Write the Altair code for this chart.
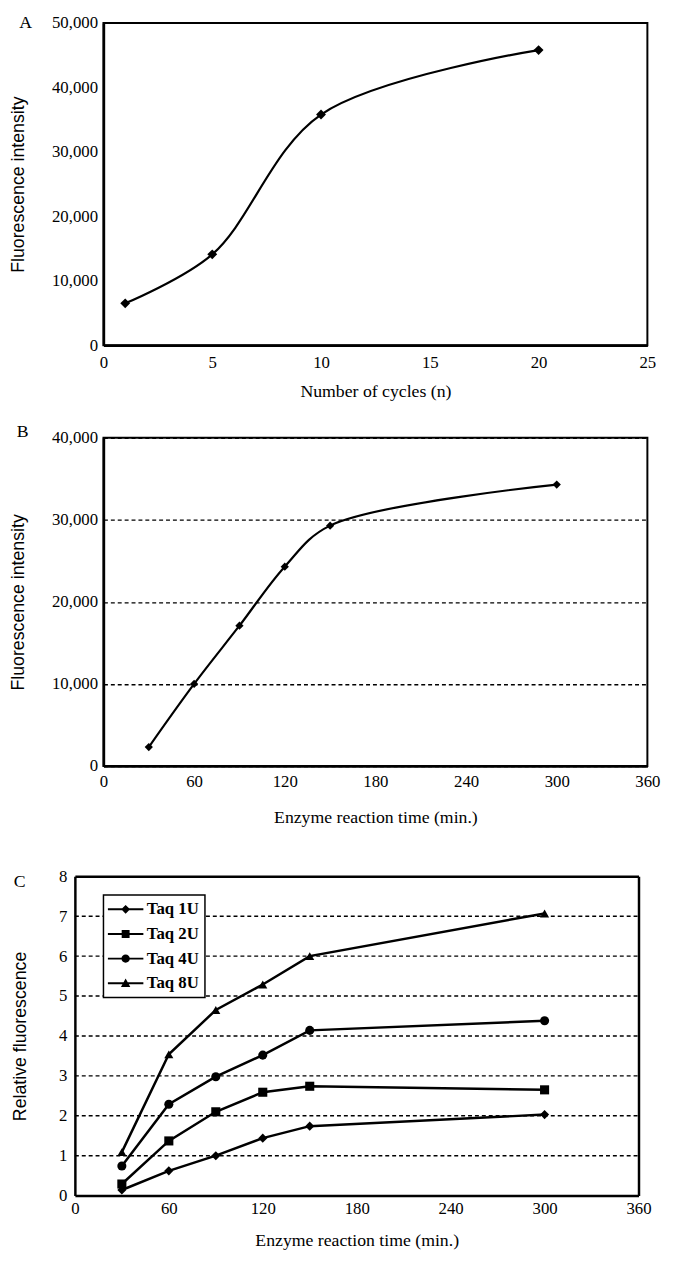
import altair as alt
import pandas as pd

# ---------------- data ----------------
A_cycles = [1, 5, 10, 20]
A_intensity = [6500, 14100, 35800, 45800]

B_time = [30, 60, 90, 120, 150, 300]
B_intensity = [2300, 10000, 17100, 24300, 29300, 34300]

C_time = [30, 60, 90, 120, 150, 300]
C_series = ["Taq 1U", "Taq 2U", "Taq 4U", "Taq 8U"]
C_taq1 = [0.14, 0.62, 1.00, 1.44, 1.74, 2.03]
C_taq2 = [0.29, 1.37, 2.10, 2.59, 2.74, 2.65]
C_taq4 = [0.74, 2.29, 2.98, 3.52, 4.14, 4.38]
C_taq8 = [1.09, 3.54, 4.65, 5.29, 6.00, 7.07]
C_grid = [1, 2, 3, 4, 5, 6, 7]

SERIF = "Liberation Serif"
SANS = "Liberation Sans"

dfA = pd.DataFrame({"cycles": A_cycles, "intensity": A_intensity})
dfB = pd.DataFrame({"time": B_time, "intensity": B_intensity})
rows = []
for name, vals in zip(C_series, [C_taq1, C_taq2, C_taq4, C_taq8]):
    for t, v in zip(C_time, vals):
        rows.append({"time": t, "value": v, "series": name})
dfC = pd.DataFrame(rows)
dfGrid = pd.DataFrame({"g": C_grid})


def xaxis(title, values, label_pad, title_pad):
    return alt.Axis(values=values, title=title, grid=False, ticks=False,
                    labelFont=SERIF, labelFontSize=17, labelColor="black",
                    labelPadding=label_pad, labelFlush=False, labelOverlap=False,
                    titleFont=SERIF, titleFontSize=18, titleFontWeight="normal",
                    titleColor="black", titlePadding=title_pad,
                    domainColor="black", domainWidth=2.5)


def yaxis(title, values, fmt, title_pad, label_pad, grid, offset=0):
    kw = dict(values=values, title=title, ticks=False, grid=grid,
              labelFont=SERIF, labelFontSize=17, labelColor="black",
              labelPadding=label_pad, labelFlush=False, labelOverlap=False,
              titleFont=SANS, titleFontSize=18, titleFontWeight="normal",
              titleColor="black", titlePadding=title_pad,
              domainColor="black", domainWidth=2.5, offset=offset)
    if fmt:
        kw["format"] = fmt
    if grid:
        kw.update(gridColor="black", gridDash=[4, 3], gridWidth=1.4)
    return alt.Axis(**kw)


def frame_axis(orient):
    return alt.Axis(orient=orient, labels=False, ticks=False, grid=False, title="",
                    domainColor="black", domainWidth=2.5)


def letter(txt, dx, dy):
    return alt.Chart(pd.DataFrame({"t": [txt]})).mark_text(
        font=SERIF, fontSize=18, color="black", align="center", baseline="middle"
    ).encode(text="t:N", x=alt.value(dx), y=alt.value(dy))


# ---------------- panel A ----------------
xA = alt.X("cycles:Q", scale=alt.Scale(domain=[0, 25], nice=False),
           axis=xaxis("Number of cycles (n)", [0, 5, 10, 15, 20, 25], 10, 12))
yA = alt.Y("intensity:Q", scale=alt.Scale(domain=[0, 50000], nice=False),
           axis=yaxis("Fluorescence intensity", [0, 10000, 20000, 30000, 40000, 50000],
                      ",.0f", 24, 6, False))
baseA = alt.Chart(dfA)
panelA = alt.layer(
    baseA.mark_line(interpolate="catmull-rom", color="black", strokeWidth=2.2).encode(x=xA, y=yA),
    baseA.mark_point(shape="diamond", filled=True, color="black", opacity=1, size=100).encode(x=xA, y=yA),
    letter("A", -79, 0),
).properties(width=552, height=327)

# ---------------- panel B ----------------
xB = alt.X("time:Q", scale=alt.Scale(domain=[0, 360], nice=False),
           axis=xaxis("Enzyme reaction time (min.)", [0, 60, 120, 180, 240, 300, 360], 8, 19))
yB = alt.Y("intensity:Q", scale=alt.Scale(domain=[0, 40000], nice=False),
           axis=yaxis("Fluorescence intensity", [0, 10000, 20000, 30000, 40000],
                      ",.0f", 24, 6, True))
baseB = alt.Chart(dfB)
panelB = alt.layer(
    baseB.mark_line(interpolate="catmull-rom", color="black", strokeWidth=2.2).encode(x=xB, y=yB),
    baseB.mark_point(shape="diamond", filled=True, color="black", opacity=1, size=70).encode(x=xB, y=yB),
    letter("B", -82, -6),
).properties(width=552, height=333)

# ---------------- panel C ----------------
scC_x = alt.Scale(domain=[0, 360], nice=False, range=[-29, 543])
scC_y = alt.Scale(domain=[0, 8], nice=False)
xC = alt.X("time:Q", scale=scC_x,
           axis=xaxis("Enzyme reaction time (min.)", [0, 60, 120, 180, 240, 300, 360], 5, 16))
yC = alt.Y("value:Q", scale=scC_y,
           axis=yaxis("Relative fluorescence", [0, 1, 2, 3, 4, 5, 6, 7, 8],
                      None, 30, 8, False, offset=29))
xC_n = alt.X("time:Q", scale=scC_x, axis=None)
yC_n = alt.Y("value:Q", scale=scC_y, axis=None)
baseC = alt.Chart(dfC)
shape_names = ["diamond", "square", "circle", "triangle-up"]
LINE = "M-3.6,-0.2H3.6V0.2H-3.6Z"
legend_paths = [
    LINE + "M0,-0.9L0.9,0L0,0.9L-0.9,0Z",
    LINE + "M-0.8,-0.8H0.8V0.8H-0.8Z",
    LINE + "M-0.85,0A0.85,0.85,0,1,1,0.85,0A0.85,0.85,0,1,1,-0.85,0Z",
    LINE + "M0,-0.95L0.95,0.75L-0.95,0.75Z",
]
gridC = alt.Chart(dfGrid).mark_rule(color="black", strokeDash=[4, 3], strokeWidth=1.4).encode(
    y=alt.Y("g:Q", scale=scC_y, axis=None),
    x=alt.datum(0, scale=scC_x, axis=None), x2=alt.datum(360))
linesC = baseC.mark_line(color="black", strokeWidth=2.5).encode(x=xC, y=yC, detail="series:N")
point_layers = [
    baseC.transform_filter(alt.datum.series == name).mark_point(
        shape=shp, filled=True, color="black", opacity=1, size=85).encode(x=xC_n, y=yC_n)
    for name, shp in zip(C_series, shape_names)
]
legendC = baseC.transform_filter("datum.value < -100").mark_point(
    filled=True, color="black", opacity=1
).encode(
    x=alt.X("time:Q", scale=scC_x, axis=frame_axis("top")),
    y=alt.Y("value:Q", scale=scC_y, axis=frame_axis("right")),
    shape=alt.Shape("series:N", scale=alt.Scale(domain=C_series, range=legend_paths),
                    legend=alt.Legend(title=None, orient="none", legendX=0, legendY=19,
                                      strokeColor="black", fillColor="white",
                                      padding=6, rowPadding=7, symbolSize=100,
                                      symbolOffset=8, labelOffset=13,
                                      symbolFillColor="black",
                                      labelFont=SERIF, labelFontSize=17, labelFontWeight="bold",
                                      labelColor="black")))
panelC = alt.layer(gridC, linesC, *point_layers, legendC, letter("C", -85, 6)).resolve_axis(
    x="independent", y="independent").properties(
    width=543, height=324, view=alt.ViewConfig(stroke="transparent"))

top = alt.vconcat(panelA, panelB, spacing=21)
chart = alt.vconcat(top, panelC, spacing=40).resolve_scale(shape="independent").properties(
    padding={"left": 9, "top": 4, "right": 5, "bottom": 0}, background="white"
).configure_view(stroke="black", strokeWidth=2).configure_legend(strokeWidth=1.5)

chart.save("out.html", embed_options={"renderer": "svg", "actions": False})
